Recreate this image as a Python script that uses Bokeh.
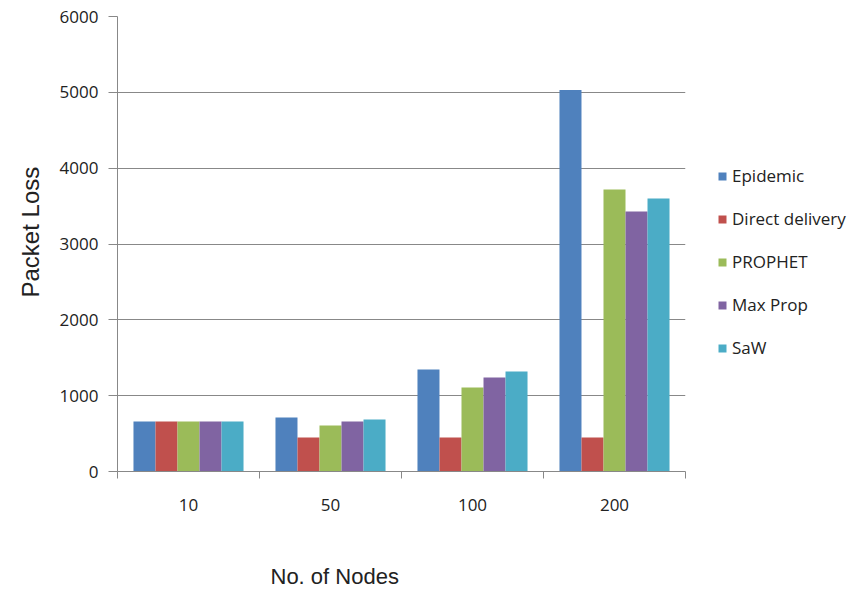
from bokeh.plotting import figure
from bokeh.models import (Range1d, FixedTicker, Legend, LegendItem, ColumnDataSource, Title)
from bokeh.transform import dodge
from bokeh.embed import file_html
from bokeh.resources import INLINE

categories = ["10", "50", "100", "200"]
epidemic = [660, 712, 1345, 5030]
direct_delivery = [660, 450, 450, 450]
prophet = [660, 607, 1108, 3720]
max_prop = [660, 660, 1240, 3430]
saw = [660, 686, 1320, 3600]

series_names = ["Epidemic", "Direct delivery", "PROPHET", "Max Prop", "SaW"]
series_values = [epidemic, direct_delivery, prophet, max_prop, saw]
colors = ["#4F81BD", "#C0504D", "#9BBB59", "#8064A2", "#4BACC6"]

xpos = [i + 0.5 for i in range(len(categories))]
data = {"x": xpos}
for name, vals in zip(series_names, series_values):
    data[name] = vals
src = ColumnDataSource(data)

p = figure(frame_width=568, frame_height=455, output_backend="svg", toolbar_location=None,
           x_range=Range1d(0, len(categories)), y_range=Range1d(0, 6000),
           min_border_left=117, min_border_right=0, min_border_top=16,
           min_border_bottom=120)
p.outline_line_color = None
p.background_fill_color = "white"

bw = 0.155
offsets = [-2 * bw, -bw, 0, bw, 2 * bw]
items = []
for name, c, off in zip(series_names, colors, offsets):
    r = p.vbar(x=dodge("x", off), top=name, width=bw, bottom=0, source=src,
               fill_color=c, line_color=None)
    items.append(LegendItem(label=name, renderers=[r]))

# axes
yaxis = p.yaxis[0]
yaxis.ticker = FixedTicker(ticks=[0, 1000, 2000, 3000, 4000, 5000, 6000])
yaxis.axis_line_color = "#888888"
yaxis.major_tick_line_color = "#888888"
yaxis.major_tick_out = 9
yaxis.major_tick_in = 0
yaxis.minor_tick_line_color = None
yaxis.major_label_text_font = "Open Sans"
yaxis.major_label_text_font_size = "17px"
yaxis.major_label_text_color = "#222222"
yaxis.major_label_standoff = 10

p.add_layout(Title(text="Packet Loss", align="left", offset=174, standoff=26,
                   text_font="Liberation Sans", text_font_size="24px",
                   text_font_style="normal", text_color="#222222"), "left")

xaxis = p.xaxis[0]
xaxis.ticker = FixedTicker(ticks=xpos, minor_ticks=list(range(len(categories) + 1)))
xaxis.major_label_overrides = {x: c for x, c in zip(xpos, categories)}
xaxis.axis_line_color = "#888888"
xaxis.major_tick_line_color = None
xaxis.minor_tick_line_color = "#888888"
xaxis.minor_tick_out = 7
xaxis.minor_tick_in = 0
xaxis.major_label_text_font = "Open Sans"
xaxis.major_label_text_font_size = "17px"
xaxis.major_label_text_color = "#222222"
xaxis.major_label_standoff = 20

p.add_layout(Title(text="No. of Nodes", align="left", offset=153, standoff=96,
                   text_font="Liberation Sans", text_font_size="22px",
                   text_font_style="normal", text_color="#222222"), "below")

p.xgrid.grid_line_color = None
p.ygrid.grid_line_color = "#888888"
p.ygrid.grid_line_width = 1.2

legend = Legend(items=items, location=(32, 112), orientation="vertical")
legend.label_text_font = "Open Sans"
legend.label_text_font_size = "17px"
legend.label_text_color = "#222222"
legend.glyph_width = 10
legend.glyph_height = 10
legend.spacing = 20
legend.label_standoff = 5
legend.padding = 5
legend.margin = 0
legend.border_line_color = None
legend.background_fill_alpha = 0
p.add_layout(legend, "right")

open("out.html", "w").write(file_html(p, INLINE))
